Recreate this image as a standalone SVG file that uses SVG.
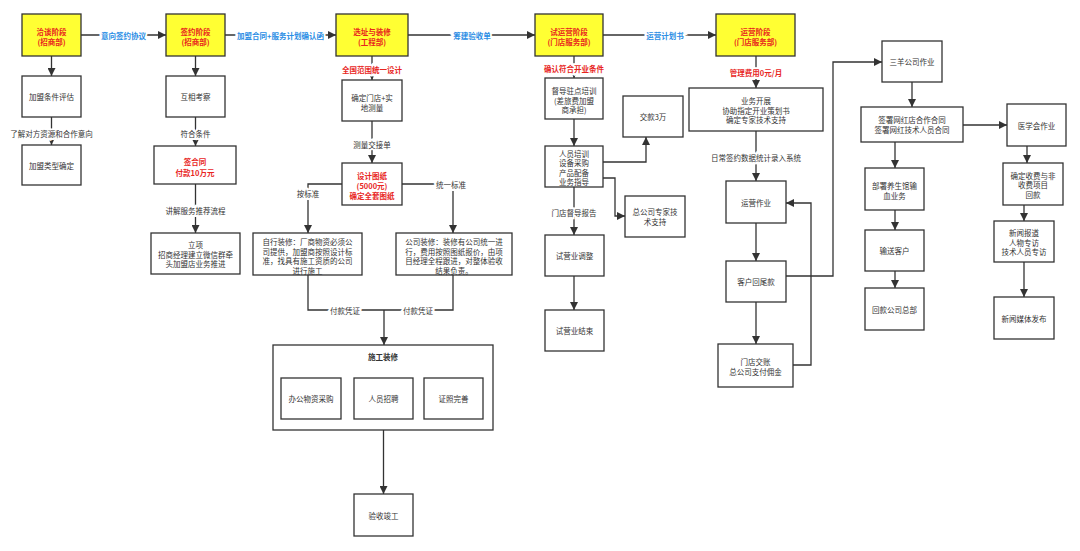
<svg xmlns="http://www.w3.org/2000/svg" width="1080" height="551" viewBox="0 0 1080 551">
<defs>
<marker id="ah" markerWidth="8" markerHeight="8" refX="8" refY="4" orient="auto" markerUnits="userSpaceOnUse"><path d="M0,0 L8,4 L0,8 z" fill="#333"/></marker>
<style>
text{font-family:"Noto Sans CJK SC","Noto Sans",sans-serif;font-size:7.5px;fill:#333;text-anchor:middle;dominant-baseline:central}
.box{fill:#fff;stroke:#333;stroke-width:1.3}
.stage{fill:#ffff33;stroke:#333;stroke-width:1.3}
.st{fill:#e8261e;font-weight:bold}
.red{fill:#e8261e;font-weight:bold}
.blue{fill:#2a8de4;font-weight:bold}
.lbl{stroke:#fff;stroke-width:4;paint-order:stroke}
.e{fill:none;stroke:#333;stroke-width:1.3}
.ea{fill:none;stroke:#333;stroke-width:1.3;marker-end:url(#ah)}
.title{font-weight:bold}
</style>
</defs>
<rect width="1080" height="551" fill="#fff"/>

<g id="connectors">
<path class="ea" d="M81,35 H166"/>
<path class="ea" d="M225,35 H336"/>
<path class="ea" d="M408,35 H535"/>
<path class="ea" d="M603,35 H716"/>
<path class="ea" d="M51.5,56 V76"/>
<path class="ea" d="M51.5,117 V145"/>
<path class="ea" d="M195.5,56 V76"/>
<path class="ea" d="M195.5,117 V146"/>
<path class="ea" d="M195.5,184 V233"/>
<path class="ea" d="M372,56 V80"/>
<path class="ea" d="M372,121 V163"/>
<path class="ea" d="M342,184 H308 V233"/>
<path class="ea" d="M402,184 H453 V233"/>
<path class="e" d="M308,275 V310 H384"/>
<path class="e" d="M453,275 V310 H384"/>
<path class="ea" d="M384,310 V345"/>
<path class="ea" d="M383.5,430 V494"/>
<path class="ea" d="M574,56 V78"/>
<path class="ea" d="M574,119 V146"/>
<path class="ea" d="M603,162 H646 V137"/>
<path class="ea" d="M603,178 H615 V216 H625"/>
<path class="ea" d="M574,187 V235"/>
<path class="ea" d="M574,276 V310"/>
<path class="ea" d="M756,56 V88"/>
<path class="ea" d="M756,131 V181"/>
<path class="ea" d="M756,223 V261"/>
<path class="ea" d="M756,302 V344"/>
<path class="ea" d="M793,365 H811 V203 H786"/>
<path class="ea" d="M786,276 H833 V62 H882"/>
<path class="ea" d="M912,82 V107"/>
<path class="ea" d="M963,125 H1007"/>
<path class="ea" d="M895,142 V168"/>
<path class="ea" d="M895,210 V230"/>
<path class="ea" d="M895,271 V288"/>
<path class="ea" d="M1027,146 V163"/>
<path class="ea" d="M1024,205 V221"/>
<path class="ea" d="M1024,262 V297"/>
<text class="lbl blue" x="123.5" y="35">意向签约协议</text>
<text class="lbl blue" x="280.5" y="35">加盟合同+服务计划确认函</text>
<text class="lbl blue" x="472" y="35">筹建验收单</text>
<text class="lbl blue" x="665" y="35">运营计划书</text>
<text class="lbl" x="51.5" y="133">了解对方资源和合作意向</text>
<text class="lbl" x="195.5" y="133">符合条件</text>
<text class="lbl" x="195.5" y="210">讲解服务推荐流程</text>
<text class="lbl red" x="372" y="69">全国范围统一设计</text>
<text class="lbl" x="372" y="144">测量交接单</text>
<text class="lbl" x="308" y="193">按标准</text>
<text class="lbl" x="451" y="184">统一标准</text>
<text class="lbl" x="345" y="310">付款凭证</text>
<text class="lbl" x="418" y="310">付款凭证</text>
<text class="lbl red" x="574" y="68">确认符合开业条件</text>
<text class="lbl" x="574" y="212">门店督导报告</text>
<text class="lbl red" x="756" y="72">管理费用0元/月</text>
<text class="lbl" x="756" y="157">日常签约数据统计录入系统</text>
</g>

<g id="n-qiatan"><rect class="stage" x="22" y="14" width="59" height="42"/><text class="st" x="51.5" y="31">洽谈阶段</text><text class="st" x="51.5" y="41">(招商部)</text></g>
<g id="n-qianyue"><rect class="stage" x="166" y="14" width="59" height="42"/><text class="st" x="195.5" y="31">签约阶段</text><text class="st" x="195.5" y="41">(招商部)</text></g>
<g id="n-xuanzhi"><rect class="stage" x="336" y="14" width="72" height="42"/><text class="st" x="372" y="31">选址与装修</text><text class="st" x="372" y="41">(工程部)</text></g>
<g id="n-shiyunying"><rect class="stage" x="535" y="14" width="68" height="42"/><text class="st" x="569" y="31">试运营阶段</text><text class="st" x="569" y="41">(门店服务部)</text></g>
<g id="n-yunying"><rect class="stage" x="716" y="14" width="79" height="42"/><text class="st" x="755.5" y="31">运营阶段</text><text class="st" x="755.5" y="41">(门店服务部)</text></g>

<g id="n-pinggu"><rect class="box" x="22" y="76" width="59" height="41"/><text x="51.5" y="96.5">加盟条件评估</text></g>
<g id="n-leixing"><rect class="box" x="22" y="145" width="59" height="40"/><text x="51.5" y="165">加盟类型确定</text></g>

<g id="n-kaocha"><rect class="box" x="166" y="76" width="59" height="41"/><text x="195.5" y="96.5">互相考察</text></g>
<g id="n-hetong"><rect class="box" x="154" y="146" width="82" height="38"/><text class="red" x="195" y="161">签合同</text><text class="red" x="195" y="172">付款10万元</text></g>
<g id="n-lixiang"><rect class="box" x="151" y="233" width="89" height="41"/><text x="195.5" y="244.5">立项</text><text x="195.5" y="254">招商经理建立微信群牵</text><text x="195.5" y="263.5">头加盟店业务推进</text></g>

<g id="n-mendian"><rect class="box" x="342" y="80" width="60" height="41"/><text x="372" y="97">确定门店+实</text><text x="372" y="107">地测量</text></g>
<g id="n-tuzhi"><rect class="box" x="342" y="163" width="60" height="42"/><text class="red" x="372" y="175">设计图纸</text><text class="red" x="372" y="185">(5000元)</text><text class="red" x="372" y="195">确定全套图纸</text></g>
<g id="n-zixing"><rect class="box" x="253" y="233" width="109" height="42"/><text x="307.5" y="241.5">自行装修：厂商物资必须公</text><text x="307.5" y="251">司提供，加盟商按照设计标</text><text x="307.5" y="260.5">准，找具有施工资质的公司</text><text x="307.5" y="270">进行施工</text></g>
<g id="n-gongsi"><rect class="box" x="396" y="233" width="116" height="42"/><text x="454" y="241.5">公司装修：装修有公司统一进</text><text x="454" y="251">行，费用按照图纸报价，由项</text><text x="454" y="260.5">目经理全程跟进，对整体验收</text><text x="454" y="270">结果负责。</text></g>
<g id="n-shigong"><rect class="box" x="273" y="345" width="220" height="85"/><text class="title" x="383" y="356">施工装修</text>
<rect class="box" x="281" y="378" width="60" height="41"/><text x="311" y="398.5">办公物资采购</text>
<rect class="box" x="354" y="378" width="59" height="41"/><text x="383.5" y="398.5">人员招聘</text>
<rect class="box" x="424" y="378" width="59" height="41"/><text x="453.5" y="398.5">证照完善</text></g>
<g id="n-yanshou"><rect class="box" x="354" y="494" width="59" height="42"/><text x="383.5" y="515">验收竣工</text></g>

<g id="n-dudao"><rect class="box" x="545" y="78" width="58" height="41"/><text x="574" y="90">督导驻点培训</text><text x="574" y="100">(差旅费加盟</text><text x="574" y="109.5">商承担)</text></g>
<g id="n-peixun"><rect class="box" x="545" y="146" width="58" height="41"/><text x="574" y="153">人员培训</text><text x="574" y="162.5">设备采购</text><text x="574" y="172">产品配备</text><text x="574" y="181.5">业务指导</text></g>
<g id="n-jiaokuan"><rect class="box" x="623" y="96" width="60" height="41"/><text x="653" y="116.5">交款3万</text></g>
<g id="n-zhuanjia"><rect class="box" x="625" y="196" width="60" height="41"/><text x="655" y="211.5">总公司专家技</text><text x="655" y="221.5">术支持</text></g>
<g id="n-tiaozheng"><rect class="box" x="545" y="235" width="59" height="41"/><text x="574.5" y="255.5">试营业调整</text></g>
<g id="n-jieshu"><rect class="box" x="545" y="310" width="59" height="41"/><text x="574.5" y="330.5">试营业结束</text></g>

<g id="n-kaizhan"><rect class="box" x="689" y="88" width="134" height="43"/><text x="756" y="100">业务开展</text><text x="756" y="110">协助指定开业策划书</text><text x="756" y="119.5">确定专家技术支持</text></g>
<g id="n-zuoye"><rect class="box" x="726" y="181" width="60" height="42"/><text x="756" y="202">运营作业</text></g>
<g id="n-weikuan"><rect class="box" x="726" y="261" width="60" height="41"/><text x="756" y="281.5">客户回尾款</text></g>
<g id="n-jiaozhang"><rect class="box" x="718" y="344" width="75" height="43"/><text x="755.5" y="361">门店交账</text><text x="755.5" y="371.5">总公司支付佣金</text></g>

<g id="n-sanyang"><rect class="box" x="882" y="41" width="60" height="41"/><text x="912" y="61.5">三羊公司作业</text></g>
<g id="n-wanghong"><rect class="box" x="861" y="107" width="102" height="35"/><text x="912" y="119.5">签署网红店合作合同</text><text x="912" y="129.5">签署网红技术人员合同</text></g>
<g id="n-yixuehui"><rect class="box" x="1007" y="104" width="59" height="42"/><text x="1036.5" y="125">医学会作业</text></g>
<g id="n-yangsheng"><rect class="box" x="865" y="168" width="59" height="42"/><text x="894.5" y="185.5">部署养生馆输</text><text x="894.5" y="195">血业务</text></g>
<g id="n-shusong"><rect class="box" x="865" y="230" width="59" height="41"/><text x="894.5" y="250.5">输送客户</text></g>
<g id="n-huikuan"><rect class="box" x="865" y="288" width="59" height="42"/><text x="894.5" y="309">回款公司总部</text></g>
<g id="n-shoufei"><rect class="box" x="1003" y="163" width="60" height="42"/><text x="1033" y="175">确定收费与非</text><text x="1033" y="184.5">收费项目</text><text x="1033" y="194">回款</text></g>
<g id="n-xinwen"><rect class="box" x="994" y="221" width="60" height="41"/><text x="1024" y="232.5">新闻报道</text><text x="1024" y="242">人物专访</text><text x="1024" y="251.5">技术人员专访</text></g>
<g id="n-meiti"><rect class="box" x="994" y="297" width="60" height="42"/><text x="1024" y="318">新闻媒体发布</text></g>
</svg>
